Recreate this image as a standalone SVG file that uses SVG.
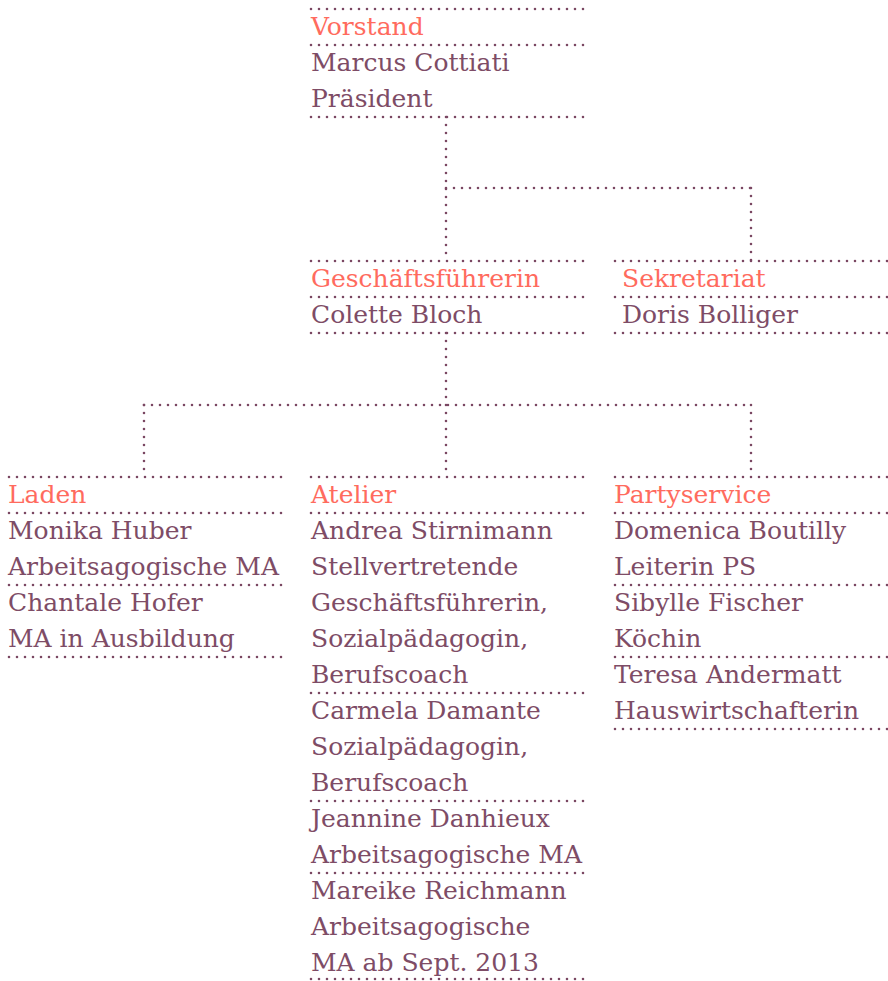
<svg xmlns="http://www.w3.org/2000/svg" width="888" height="981" viewBox="0 0 888 981">
<style>
.d{stroke:#7a4762;stroke-width:2.6;stroke-linecap:round;stroke-dasharray:0 8;fill:none}
text{font-family:"DejaVu Serif","Liberation Serif",serif;font-size:25px;fill:#7e4c66}
.h{fill:#ff6b5e}
</style>
<rect width="888" height="981" fill="#fff"/>
<g id="connectors">
<line class="d" x1="446" y1="117" x2="446" y2="261"/>
<line class="d" x1="446" y1="188" x2="751" y2="188"/>
<line class="d" x1="751" y1="188" x2="751" y2="261"/>
<line class="d" x1="446" y1="333" x2="446" y2="477"/>
<line class="d" x1="144" y1="405" x2="751" y2="405"/>
<line class="d" x1="144" y1="405" x2="144" y2="477"/>
<line class="d" x1="751" y1="405" x2="751" y2="477"/>
</g>
<g id="vorstand">
<line class="d" x1="311" y1="9" x2="584" y2="9"/>
<text class="h" x="311" y="35">Vorstand</text>
<line class="d" x1="311" y1="45" x2="584" y2="45"/>
<text x="311" y="71">Marcus Cottiati</text>
<text x="311" y="107">Präsident</text>
<line class="d" x1="311" y1="117" x2="584" y2="117"/>
</g>
<g id="geschaeftsfuehrerin">
<line class="d" x1="311" y1="261" x2="584" y2="261"/>
<text class="h" x="311" y="287">Geschäftsführerin</text>
<line class="d" x1="311" y1="297" x2="584" y2="297"/>
<text x="311" y="323">Colette Bloch</text>
<line class="d" x1="311" y1="333" x2="584" y2="333"/>
</g>
<g id="sekretariat">
<line class="d" x1="615" y1="261" x2="888" y2="261"/>
<text class="h" x="622" y="287">Sekretariat</text>
<line class="d" x1="615" y1="297" x2="888" y2="297"/>
<text x="622" y="323">Doris Bolliger</text>
<line class="d" x1="615" y1="333" x2="888" y2="333"/>
</g>
<g id="laden">
<line class="d" x1="9" y1="477" x2="282" y2="477"/>
<text class="h" x="8" y="503">Laden</text>
<line class="d" x1="9" y1="513" x2="282" y2="513"/>
<text x="8" y="539">Monika Huber</text>
<text x="8" y="575">Arbeitsagogische MA</text>
<line class="d" x1="9" y1="585" x2="282" y2="585"/>
<text x="8" y="611">Chantale Hofer</text>
<text x="8" y="647">MA in Ausbildung</text>
<line class="d" x1="9" y1="657" x2="282" y2="657"/>
</g>
<g id="atelier">
<line class="d" x1="311" y1="477" x2="584" y2="477"/>
<text class="h" x="311" y="503">Atelier</text>
<line class="d" x1="311" y1="513" x2="584" y2="513"/>
<text x="311" y="539">Andrea Stirnimann</text>
<text x="311" y="575">Stellvertretende</text>
<text x="311" y="611">Geschäftsführerin,</text>
<text x="311" y="647">Sozialpädagogin,</text>
<text x="311" y="683">Berufscoach</text>
<line class="d" x1="311" y1="693" x2="584" y2="693"/>
<text x="311" y="719">Carmela Damante</text>
<text x="311" y="755">Sozialpädagogin,</text>
<text x="311" y="791">Berufscoach</text>
<line class="d" x1="311" y1="801" x2="584" y2="801"/>
<text x="311" y="827">Jeannine Danhieux</text>
<text x="311" y="863">Arbeitsagogische MA</text>
<line class="d" x1="311" y1="873" x2="584" y2="873"/>
<text x="311" y="899">Mareike Reichmann</text>
<text x="311" y="935">Arbeitsagogische</text>
<text x="311" y="971">MA ab Sept. 2013</text>
<line class="d" x1="311" y1="979" x2="584" y2="979"/>
</g>
<g id="partyservice">
<line class="d" x1="615" y1="477" x2="888" y2="477"/>
<text class="h" x="614" y="503">Partyservice</text>
<line class="d" x1="615" y1="513" x2="888" y2="513"/>
<text x="614" y="539">Domenica Boutilly</text>
<text x="614" y="575">Leiterin PS</text>
<line class="d" x1="615" y1="585" x2="888" y2="585"/>
<text x="614" y="611">Sibylle Fischer</text>
<text x="614" y="647">Köchin</text>
<line class="d" x1="615" y1="657" x2="888" y2="657"/>
<text x="614" y="683">Teresa Andermatt</text>
<text x="614" y="719">Hauswirtschafterin</text>
<line class="d" x1="615" y1="729" x2="888" y2="729"/>
</g>
</svg>
